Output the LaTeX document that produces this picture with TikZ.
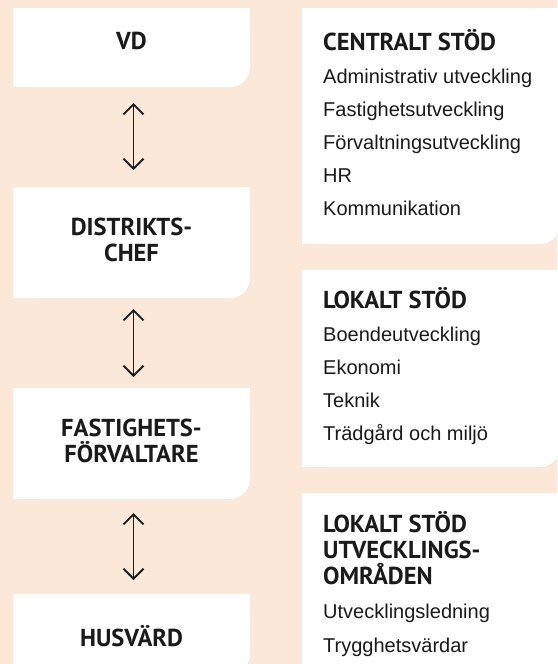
\documentclass[tikz,border=0pt]{standalone}
\usepackage{fontspec}
\setmainfont{Liberation Sans}
\newfontfamily\headfont{PT Sans}
\usetikzlibrary{positioning,arrows.meta}
\definecolor{peach}{HTML}{FCE8D8}
\definecolor{ink}{HTML}{1A1A1A}
% white panel, only the lower right corner rounded
\newcommand\fillpanel[1]{%
	\fill[white, rounded corners=20pt] (#1.north west) rectangle (#1.south east);
	\fill[white] (#1.north west) rectangle ([yshift=20pt]#1.south east);
	\fill[white] (#1.north west) rectangle ([xshift=-20pt]#1.south east);}

\begin{document}
\begin{tikzpicture}[x=1pt, y=-1pt,
	panel/.style={inner sep=0pt, outer sep=0pt, anchor=north west},
	rank/.style={panel, minimum width=237pt},
	unit/.style={panel, minimum width=258pt},
	title/.style={font=\headfont\bfseries\fontsize{24.5}{26}\selectfont, text=ink, align=center, inner sep=0pt},
	head/.style={title, align=left, anchor=base west},
	item/.style={font=\fontsize{20}{24}\selectfont, text=ink, inner sep=0pt, anchor=base west},
	link/.style={{Straight Barb[length=10pt,width=20pt]}-{Straight Barb[length=10pt,width=20pt]}, line width=1.8pt, draw=ink}]
	\useasboundingbox (0,0) rectangle (557,664);
	\fill[peach] (0,0) rectangle (557,664);
	\clip (0,0) rectangle (557,664);
	% Linje
	\node[rank, minimum height=79pt] (vd) at (13,8) {};
	\node[rank, minimum height=111pt, below=100pt of vd] (dc) {};
	\node[rank, minimum height=111pt, below=90pt of dc] (fa) {};
	\node[rank, minimum height=80pt, below=95pt of fa] (hv) {};
	% Stöd
	\node[unit, minimum height=236pt] (cs) at (302,8) {};
	\node[unit, minimum height=197pt, below=26pt of cs] (ls) {};
	\node[unit, minimum height=200pt, below=26pt of ls] (us) {};
	\foreach \p in {vd,dc,fa,hv,cs,ls,us}
		\fillpanel{\p};
	% Roller
	\node[title] (vdt) at ([yshift=-33pt]vd.north) {VD};
	\node[title] (dct) at ([yshift=-53pt]dc.north) {DISTRIKTS-\\CHEF};
	\node[title] (fat) at ([yshift=-53pt]fa.north) {FASTIGHETS-\\FÖRVALTARE};
	\node[title] (hvt) at ([yshift=-42.5pt]hv.north) {HUSVÄRD};
	\draw[link, shorten <=16pt, shorten >=17pt] ([xshift=2pt]vd.south) -- ([xshift=2pt]dc.north);
	\draw[link, shorten <=11pt, shorten >=11pt] ([xshift=2pt]dc.south) -- ([xshift=2pt]fa.north);
	\draw[link, shorten <=14pt, shorten >=14pt] ([xshift=2pt]fa.south) -- ([xshift=2pt]hv.north);
	% Centralt stöd
	\node[head] (csh) at ([shift={(21,42)}]cs.north west) {CENTRALT STÖD};
	\foreach \t [count=\n] in {Administrativ utveckling, Fastighetsutveckling,
		Förvaltningsutveckling, HR, Kommunikation}
		\node[item] (cs\n) at ([shift={(0,33*\n)}]csh.base west) {\t};
	% Lokalt stöd
	\node[head] (lsh) at ([shift={(21,38)}]ls.north west) {LOKALT STÖD};
	\foreach \t [count=\n] in {Boendeutveckling, Ekonomi, Teknik, Trädgård och miljö}
		\node[item] (ls\n) at ([shift={(0,33*\n)}]lsh.base west) {\t};
	% Utvecklingsområden
	\node[head, anchor=north west] (ush) at ([shift={(21,18)}]us.north west) {LOKALT STÖD\\UTVECKLINGS-\\OMRÅDEN};
	\foreach \t [count=\n] in {Utvecklingsledning, Trygghetsvärdar}
		\node[item] (us\n) at ([shift={(0,34*\n)}]ush.south west) {\t};
\end{tikzpicture}
\end{document}
